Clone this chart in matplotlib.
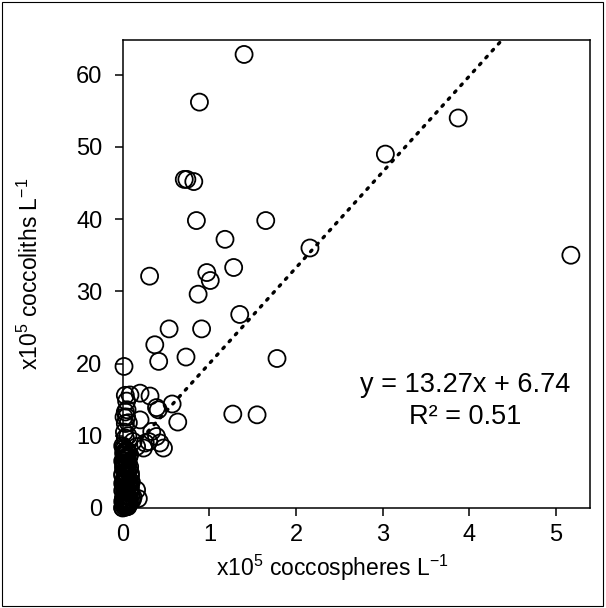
import matplotlib
matplotlib.use("Agg")
import matplotlib.pyplot as plt
from matplotlib.patches import Rectangle

plt.rcParams['font.family'] = ['Liberation Sans', 'DejaVu Sans']
plt.rcParams['mathtext.fontset'] = 'custom'
plt.rcParams['mathtext.rm'] = 'Liberation Sans'
plt.rcParams['mathtext.it'] = 'Liberation Sans:italic'

# scattered points (x10^5 coccospheres L-1, x10^5 coccoliths L-1)
x_upper = [1.40, 0.885, 3.87, 3.03, 0.71, 0.74, 0.82, 0.85, 1.65, 1.18,
           2.16, 5.17, 1.28, 0.97, 1.01, 0.31, 0.87, 1.35, 0.535, 0.91,
           0.37, 0.415, 0.73, 1.78, 0.015, 1.27, 1.55, 0.57, 0.635]
y_upper = [62.8, 56.2, 54.0, 49.0, 45.5, 45.5, 45.2, 39.8, 39.8, 37.2,
           36.0, 35.0, 33.3, 32.6, 31.5, 32.1, 29.6, 26.8, 24.8, 24.8,
           22.6, 20.3, 20.9, 20.7, 19.6, 13.0, 12.9, 14.4, 11.9]

x_mid = [0.084, 0.20, 0.315, 0.39, 0.03, 0.03, 0.045, 0.065, 0.20, 0.03,
         0.335, 0.39, 0.47, 0.30, 0.24, 0.16, 0.12, 0.16, 0.18, 0.05,
         0.015, 0.03, 0.41, 0.26, 0.43, 0.045, 0.02, 0.06]
y_mid = [15.65, 15.9, 15.5, 13.9, 15.6, 13.3, 12.6, 11.8, 12.2, 9.7,
         10.6, 9.9, 8.3, 9.2, 8.3, 8.5, 9.2, 2.5, 1.3, 13.6,
         12.6, 11.7, 13.6, 9.0, 9.0, 14.8, 10.5, 10.0]

x_low = [0.00, 0.02, 0.05, 0.01, 0.03, 0.07, 0.04, 0.00, 0.06, 0.02,
         0.08, 0.01, 0.05, 0.03, 0.09, 0.00, 0.04, 0.06, 0.02, 0.10,
         0.01, 0.07, 0.03, 0.05, 0.00, 0.08, 0.02, 0.04, 0.06, 0.01,
         0.03, 0.09, 0.00, 0.05, 0.02, 0.07, 0.04, 0.01, 0.06, 0.03,
         0.00, 0.08, 0.02, 0.05, 0.11, 0.01, 0.04, 0.03, 0.06, 0.00,
         0.04, 0.08, 0.02, 0.06, 0.01, 0.07, 0.03, 0.09, 0.05, 0.00,
         0.06, 0.02, 0.08, 0.04, 0.01, 0.07, 0.03, 0.05, 0.10, 0.02,
         0.12, 0.09, 0.04, 0.06, 0.01, 0.03, 0.08, 0.05, 0.00, 0.07]
y_low = [8.6, 8.2, 7.9, 7.6, 7.3, 7.0, 6.8, 6.5, 6.2, 6.0,
         5.7, 5.5, 5.2, 5.0, 4.8, 4.5, 4.3, 4.0, 3.8, 3.6,
         3.3, 3.1, 2.9, 2.6, 2.4, 2.2, 2.0, 1.8, 1.6, 1.4,
         1.2, 1.0, 0.9, 0.7, 0.6, 0.5, 0.4, 0.3, 0.2, 0.1,
         0.05, 3.5, 5.9, 7.1, 1.1, 6.6, 2.7, 4.6, 0.8, 0.0,
         8.0, 7.4, 6.9, 6.3, 5.8, 5.3, 4.9, 4.4, 3.9, 3.4,
         3.0, 2.5, 2.1, 1.7, 1.3, 0.9, 0.5, 0.2, 1.9, 4.1,
         1.5, 2.8, 5.6, 7.8, 8.4, 6.1, 3.2, 0.3, 4.7, 1.0]

# linear trend reported on the chart
slope = 13.27
intercept = 6.74
r2 = 0.51
trend_x = [0.0, 5.17]

x_ticks = [0, 1, 2, 3, 4, 5]
y_ticks = [0, 10, 20, 30, 40, 50, 60]

fig = plt.figure(figsize=(6.06, 6.08), dpi=100)
ax = fig.add_axes([0.2025, 0.1645, 0.771, 0.7697])

xs = x_upper + x_mid + x_low
ys = y_upper + y_mid + y_low
ax.scatter(xs, ys, s=150, facecolors='none', edgecolors='black',
           linewidths=1.3, zorder=3, clip_on=False)

ty = [slope * v + intercept for v in trend_x]
ax.plot(trend_x, ty, color='black', linestyle=(0, (0.6, 2.2)),
        linewidth=2.4, dash_capstyle='round', zorder=2)

ax.set_xlim(0, 5.39)
ax.set_ylim(0, 64.8)
ax.set_xticks(x_ticks)
ax.set_yticks(y_ticks)
ax.tick_params(direction='out', length=5.5, width=1.1, labelsize=17)
ax.tick_params(axis='x', pad=6)
ax.tick_params(axis='y', pad=9)
for s in ax.spines.values():
    s.set_linewidth(1.1)

# axis titles
fig.text(332 / 606, 1 - 568 / 608, r'x10$^5$ coccospheres L$^{-1}$',
         fontsize=16.5, ha='center', va='center')
fig.text(30 / 606, 1 - 274 / 608, r'x10$^5$ coccoliths L$^{-1}$',
         fontsize=16.5, ha='center', va='center', rotation=90)

# trendline label
ax.text(3.95, 17.0, f'y = {slope}x + {intercept}', fontsize=19.5, ha='center', va='center')
ax.text(3.95, 12.6, f'R² = {r2}', fontsize=19.5, ha='center', va='center')

fig.patches.append(Rectangle((0.004, 0.004), 0.991, 0.992, transform=fig.transFigure,
                             fill=False, edgecolor='black', linewidth=0.8))

fig.savefig('out.png', dpi=100)
